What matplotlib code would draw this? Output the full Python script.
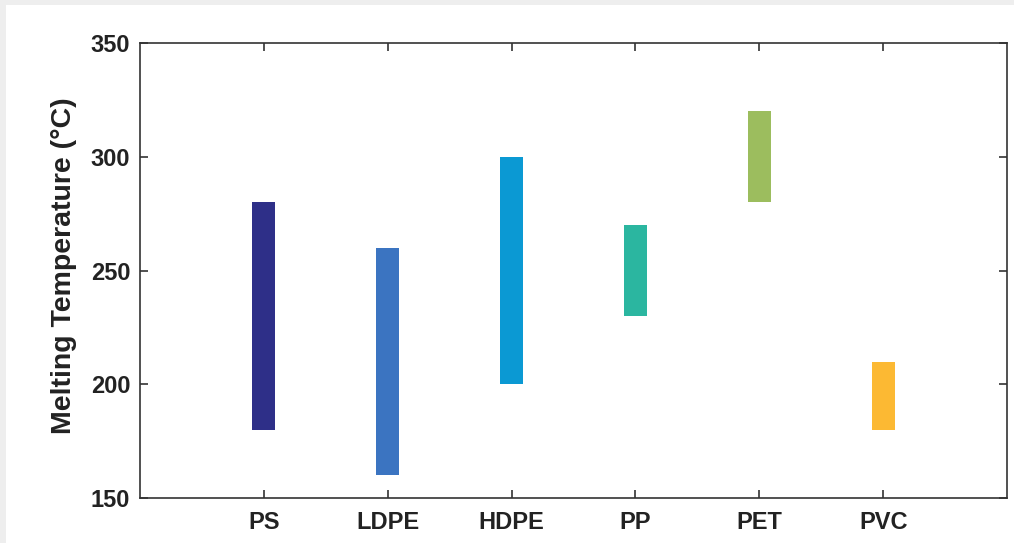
import matplotlib
matplotlib.use("Agg")
import matplotlib.pyplot as plt
from matplotlib.patches import Rectangle

plastics = ["PS", "LDPE", "HDPE", "PP", "PET", "PVC"]
temp_low = [180, 160, 200, 230, 280, 180]
temp_high = [280, 260, 300, 270, 320, 210]
bar_colors = ["#2e2f88", "#3b74c1", "#0b99d3", "#2bb6a0", "#9cbd5e", "#fcb933"]

plt.rcParams["font.family"] = ["Liberation Sans", "DejaVu Sans"]
plt.rcParams["font.weight"] = "bold"

fig = plt.figure(figsize=(10.14, 5.43), dpi=100, facecolor="#eeeeee")
# white card over the grey page edge
fig.patches.append(Rectangle((6 / 1014, 0), 1 - 6 / 1014, 1 - 5 / 543,
                             transform=fig.transFigure, facecolor="white",
                             edgecolor="none", zorder=-10))
ax = fig.add_axes([140 / 1014, 1 - 498 / 543, 867 / 1014, 455 / 543])
ax.set_facecolor("white")

x = list(range(1, len(plastics) + 1))
heights = [h - l for l, h in zip(temp_low, temp_high)]
ax.bar(x, heights, bottom=temp_low, width=0.185, color=bar_colors, zorder=2)

ax.set_xlim(0, 7)
ax.set_ylim(150, 350)
ax.set_xticks(x)
ax.set_xticklabels(plastics)
ax.set_yticks([150, 200, 250, 300, 350])
ax.set_ylabel("Melting Temperature (°C)", fontsize=20.5, fontweight="bold",
              color="#222222")
ax.yaxis.set_label_coords(-0.073, 0.51)

ax.tick_params(direction="in", length=6, width=1.2, color="#333333",
               labelsize=17, labelcolor="#222222", top=True, right=True)
ax.tick_params(axis="x", pad=9.5)
ax.tick_params(axis="y", pad=7)
for s in ax.spines.values():
    s.set_linewidth(1.2)
    s.set_color("#333333")

fig.savefig("out.png", dpi=100, facecolor=fig.get_facecolor())
